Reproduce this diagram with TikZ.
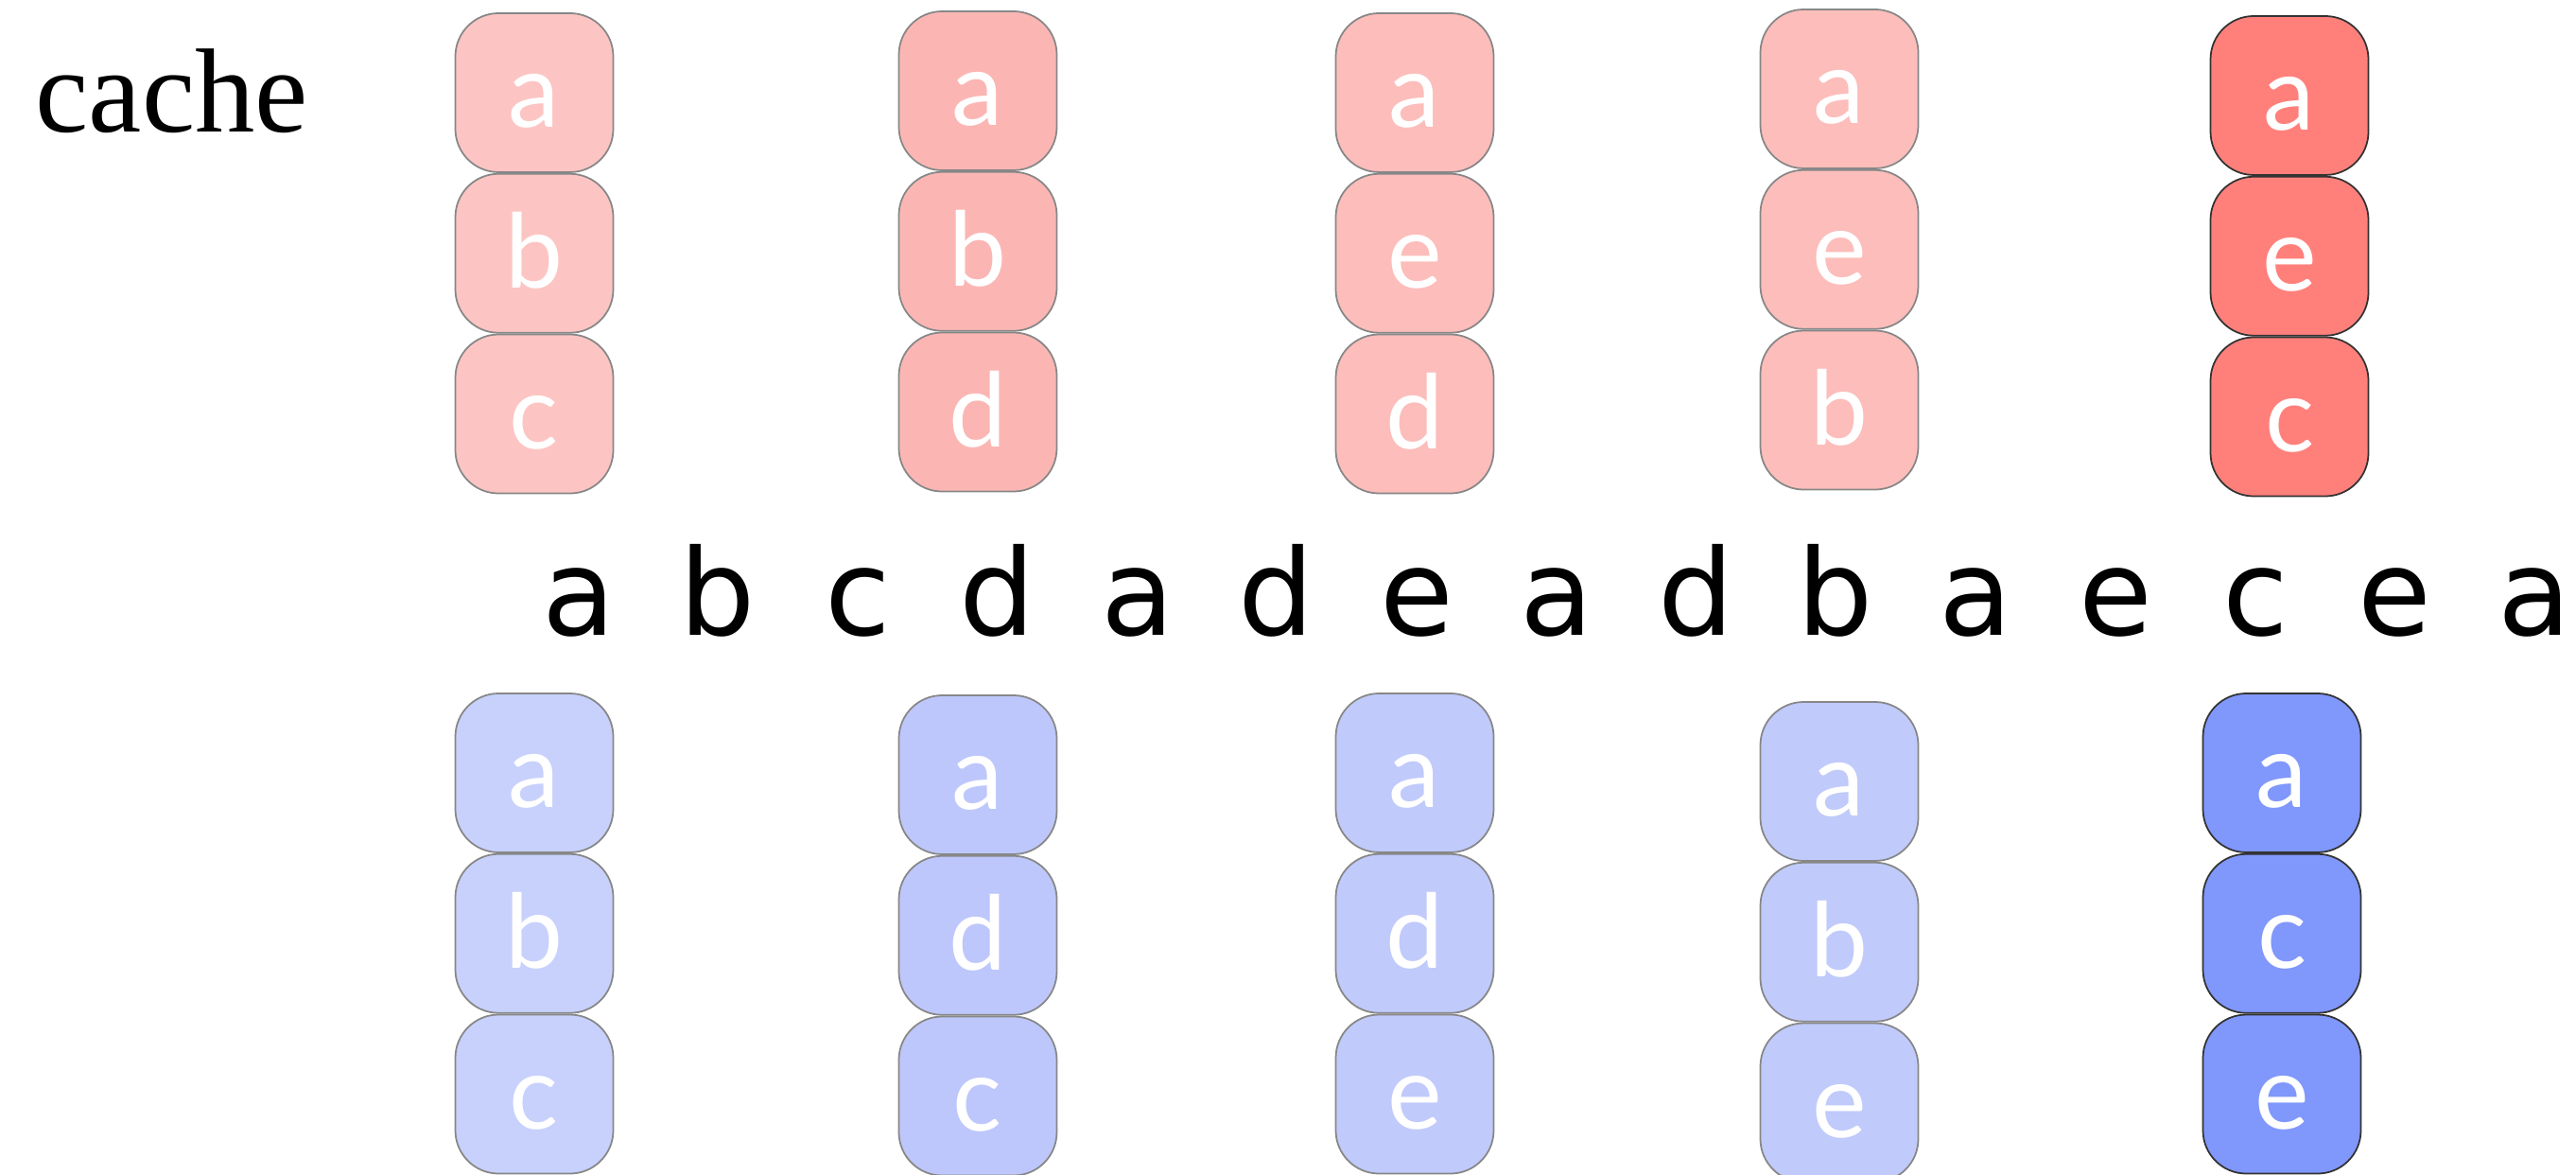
\documentclass[tikz,border=0pt]{standalone}
\usepackage{fontspec}
\setmainfont{Liberation Serif}
\newfontfamily\seqfont{DejaVu Sans}
\newfontfamily\slotfont{Lato}
\usepackage{tikz}
\usetikzlibrary{positioning}
\usepackage{xcolor}
\definecolor{redlight}{RGB}{252,197,195}
\definecolor{redmid}{RGB}{251,182,180}
\definecolor{redsoft}{RGB}{252,189,187}
\definecolor{redfull}{RGB}{255,128,123}
\definecolor{bluelight}{RGB}{199,209,252}
\definecolor{bluemid}{RGB}{189,199,251}
\definecolor{bluesoft}{RGB}{192,202,251}
\definecolor{bluefull}{RGB}{128,151,252}
\definecolor{edgegray}{RGB}{135,135,135}

\begin{document}
\begin{tikzpicture}[
  slot/.style={rectangle, rounded corners=13pt, draw=edgegray, line width=0.5pt,
               minimum width=1.67cm, minimum height=1.68cm, inner sep=0pt,
               text=white, font=\slotfont\fontsize{31}{31}\selectfont,
               text height=0.74cm, text depth=0cm},
  hot/.style={slot, draw=black!80},
  ref/.style={anchor=base, inner sep=0pt, font=\seqfont\fontsize{36}{36}\selectfont},
  node distance=0cm,
]
\useasboundingbox (0,0) rectangle (27.24,-12.42);

% title
\node[anchor=base west, inner sep=0pt, font=\fontsize{36}{36}\selectfont] (title) at (0.37,-1.40) {cache};

% Top row — red cache states
\node[slot, fill=redlight] (red1a) at (5.65,-0.98) {a};
\node[slot, fill=redlight, below=of red1a] (red1b) {b};
\node[slot, fill=redlight, below=of red1b] (red1c) {c};

\node[slot, fill=redmid] (red2a) at (10.34,-0.96) {a};
\node[slot, fill=redmid, below=of red2a] (red2b) {b};
\node[slot, fill=redmid, below=of red2b] (red2d) {d};

\node[slot, fill=redsoft] (red3a) at (14.96,-0.98) {a};
\node[slot, fill=redsoft, below=of red3a] (red3e) {e};
\node[slot, fill=redsoft, below=of red3e] (red3d) {d};

\node[slot, fill=redsoft] (red4a) at (19.45,-0.94) {a};
\node[slot, fill=redsoft, below=of red4a] (red4e) {e};
\node[slot, fill=redsoft, below=of red4e] (red4b) {b};

\node[hot, fill=redfull] (red5a) at (24.21,-1.01) {a};
\node[hot, fill=redfull, below=of red5a] (red5e) {e};
\node[hot, fill=redfull, below=of red5e] (red5c) {c};

% Middle — reference string
\node[ref] (q1)  at (6.12,-6.72)  {a};
\node[ref] (q2)  at (7.59,-6.72)  {b};
\node[ref] (q3)  at (9.07,-6.72)  {c};
\node[ref] (q4)  at (10.55,-6.72) {d};
\node[ref] (q5)  at (12.03,-6.72) {a};
\node[ref] (q6)  at (13.50,-6.72) {d};
\node[ref] (q7)  at (14.98,-6.72) {e};
\node[ref] (q8)  at (16.46,-6.72) {a};
\node[ref] (q9)  at (17.94,-6.72) {d};
\node[ref] (q10) at (19.41,-6.72) {b};
\node[ref] (q11) at (20.89,-6.72) {a};
\node[ref] (q12) at (22.37,-6.72) {e};
\node[ref] (q13) at (23.85,-6.72) {c};
\node[ref] (q14) at (25.32,-6.72) {e};
\node[ref] (q15) at (26.80,-6.72) {a};

% Bottom row — blue cache states
\node[slot, fill=bluelight] (blu1a) at (5.65,-8.17) {a};
\node[slot, fill=bluelight, below=of blu1a] (blu1b) {b};
\node[slot, fill=bluelight, below=of blu1b] (blu1c) {c};

\node[slot, fill=bluemid] (blu2a) at (10.34,-8.19) {a};
\node[slot, fill=bluemid, below=of blu2a] (blu2d) {d};
\node[slot, fill=bluemid, below=of blu2d] (blu2c) {c};

\node[slot, fill=bluesoft] (blu3a) at (14.96,-8.17) {a};
\node[slot, fill=bluesoft, below=of blu3a] (blu3d) {d};
\node[slot, fill=bluesoft, below=of blu3d] (blu3e) {e};

\node[slot, fill=bluesoft] (blu4a) at (19.45,-8.26) {a};
\node[slot, fill=bluesoft, below=of blu4a] (blu4b) {b};
\node[slot, fill=bluesoft, below=of blu4b] (blu4e) {e};

\node[hot, fill=bluefull] (blu5a) at (24.13,-8.17) {a};
\node[hot, fill=bluefull, below=of blu5a] (blu5c) {c};
\node[hot, fill=bluefull, below=of blu5c] (blu5e) {e};
\end{tikzpicture}
\end{document}
